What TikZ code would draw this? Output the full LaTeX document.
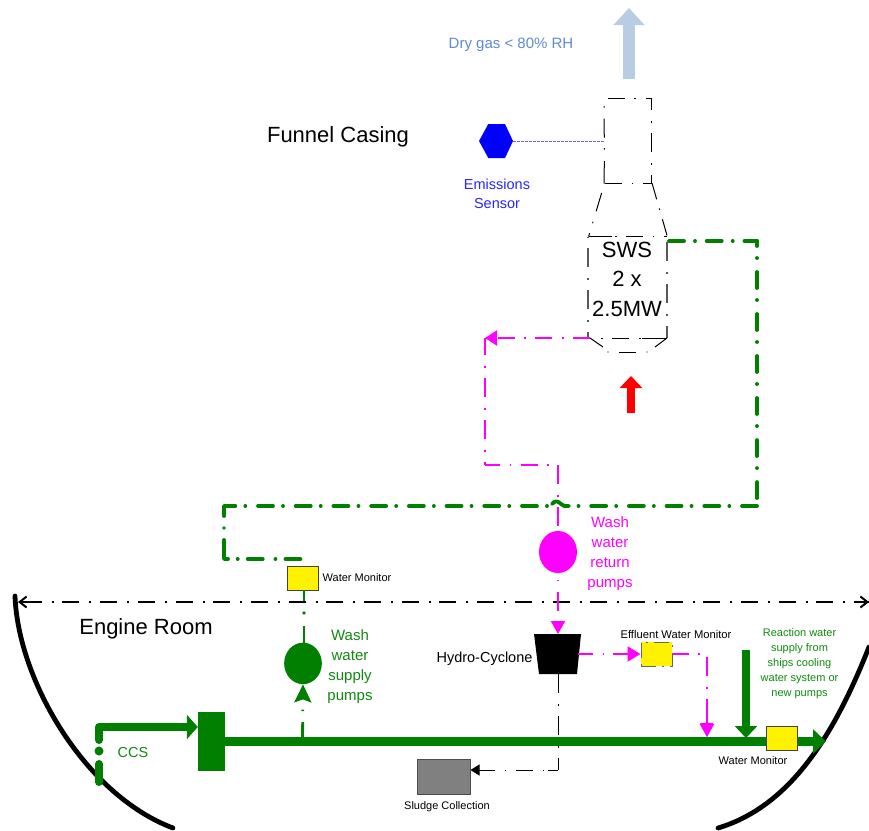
\documentclass[tikz,border=0pt]{standalone}
\usepackage{fontspec}
\setmainfont{Liberation Sans}
\usetikzlibrary{arrows.meta,shapes.geometric}
\definecolor{pgreen}{HTML}{007F00}
\definecolor{tgreen}{HTML}{0F8A0F}
\definecolor{pmag}{HTML}{FF00FF}
\definecolor{skyb}{HTML}{B8CCE4}
\definecolor{skyt}{HTML}{5F8BCB}
\definecolor{sgray}{HTML}{808080}
\newcommand{\fs}[1]{\fontsize{#1}{#1}\selectfont}
\tikzset{
  x=1pt,y=-1pt,
  lbl/.style={inner sep=0pt,align=center},
  big/.style={lbl,font=\fs{22}{}},
  monitor/.style={draw=black!75,line width=1pt,fill=yellow,minimum width=31pt,minimum height=23.5pt,inner sep=0pt},
  pump/.style={ellipse,inner sep=0pt},
  hpat/.style={dash pattern=on 17pt off 9.5pt on 1.5pt off 9.7pt},
  vpat/.style={dash pattern=on 19pt off 11pt on 1.5pt off 10.5pt},
  pipesolid/.style={draw=pgreen,line width=3.8pt,line cap=round,line join=round},
  pipeh/.style={pipesolid,dash pattern=on 15pt off 12.7pt on 0.01pt off 10pt},
  pipev/.style={pipesolid,dash pattern=on 16pt off 12pt on 0.01pt off 14pt},
  thinpipe/.style={draw=pgreen,line width=2.8pt,vpat},
  magh/.style={draw=pmag,line width=2pt,hpat},
  magv/.style={draw=pmag,line width=2pt,vpat},
  magsolid/.style={draw=pmag,line width=2pt},
  blk/.style={draw=black,line width=1pt},
  blkh/.style={blk,hpat},
  blkv/.style={blk,vpat},
  room/.style={draw=black,line width=2pt,dash pattern=on 17pt off 10pt on 2pt off 8.7pt},
  hull/.style={draw=black,line width=4.8pt,line cap=round},
  magtip/.style={-{Triangle[length=13pt,width=14pt]}},
  magtiph/.style={-{Triangle[length=12pt,width=15pt]}},
}
\begin{document}
\begin{tikzpicture}
\useasboundingbox (0,0) rectangle (869,830);
% hull
\draw[hull] (15,596) .. controls (18,680) and (85,795) .. (173,828);
\draw[hull] (869,647) .. controls (838,725) and (795,805) .. (718,828);
% room line
\coordinate (roomL) at (18,602);
\coordinate (roomR) at (869,602);
\draw[room,dash phase=31pt] (roomL) -- (roomR);
\draw[black,line width=2pt,-{Straight Barb[length=7pt,width=11pt]}] (27,602) -- (roomL);
\draw[black,line width=2pt,-{Straight Barb[length=7pt,width=11pt]}] (858,602) -- (roomR);
% exhaust arrows
\coordinate (dryA) at (629,79);
\coordinate (dryB) at (629,8);
\draw[skyb,line width=12pt,-{Triangle[length=17pt,width=30pt]}] (dryA) -- (dryB);
\coordinate (redA) at (631,413);
\coordinate (redB) at (631,376);
\draw[red,line width=8pt,-{Triangle[length=12pt,width=22pt]}] (redA) -- (redB);
% funnel
\node[inner sep=0pt,minimum width=47pt,minimum height=85pt] (funnel) at (627.8,140.8) {};
\draw[blkh,dash phase=34pt] (funnel.north west) -- (funnel.north east);
\draw[blkv,dash phase=7pt] (funnel.north east) -- (funnel.south east);
\draw[blkh,dash phase=8pt] (funnel.south east) -- (funnel.south west);
\draw[blk] (funnel.south west) -- (604.3,161);
\draw[blkv,dash phase=30pt] (604.3,149.5) -- (funnel.north west);
\coordinate (cn1) at (604.6,183);
\coordinate (cn2) at (588.6,236.5);
\coordinate (cn3) at (667.3,236.5);
\coordinate (cn4) at (652,183);
\draw[blkv,dash phase=31.6pt] (cn1) -- (cn2);
\draw[blkh] (cn4) -- (cn3);
\draw[blkh] (cn2) -- (cn3);
\draw[blk] (604,236.5) -- (612,236.5);
\coordinate (sb1) at (588,237);
\coordinate (sb2) at (590,338);
\coordinate (sb3) at (603,347);
\coordinate (sb4) at (655,347);
\coordinate (sb5) at (667,338);
\coordinate (sb6) at (667,237);
\draw[blkv,draw=black!65,dash phase=31pt,line width=1.2pt] (sb1) -- (588,338);
\draw[blkv,draw=black!65,dash phase=37pt,line width=1.2pt] (sb6) -- (sb5);
\draw[blkh] (sb5) -- (597,338);
\draw[blk] (650,338) -- (642,338);
\draw[blk] (sb2) -- (sb3);
\draw[blk] (sb5) -- (sb4);
\draw[blk] (619,352) -- (636,352);
\fill[black] (608,352) circle (0.7pt) (647,352) circle (0.7pt);
\node[big,align=center] (sws) at (627,279) {SWS\\[7.5pt]2 x\\[7.5pt]2.5MW};
% sensor
\node[inner sep=0pt,minimum width=34pt,minimum height=34pt] (sensor) at (496,141) {};
\fill[blue] (479,141) -- (488.3,124) -- (505,124) -- (513,141) -- (505,158) -- (488.3,158) -- cycle;
\coordinate (sensorEnd) at (604,141);
\draw[draw=blue!60,line width=1pt,dash pattern=on 3pt off 1pt] (sensor.east) -- (sensorEnd);
% boxes
\node[monitor] (wm1) at (302.5,578.5) {};
\node[monitor,minimum height=24pt,draw=black!60,dash pattern=on 15pt off 6pt on 2pt off 6pt] (wm2) at (656.5,654) {};
\node[draw=black!70,line width=1pt,fill=sgray,minimum width=53pt,minimum height=35pt,inner sep=0pt] (sludge) at (443.5,776.5) {};
% pumps
\node[pump,fill=pgreen,minimum width=37.7pt,minimum height=41.5pt] (pumpG) at (303,663.4) {};
\node[pump,fill=pmag,minimum width=38pt,minimum height=42pt] (pumpM) at (558,552) {};
% cyclone
\node[inner sep=0pt,minimum width=40pt,minimum height=40pt] (cyclone) at (558,654) {};
\fill[black] (534,634) -- (581,634) -- (577,674) -- (539,674) -- cycle;
% sludge line (under main pipe)
\coordinate (s0) at (558,770);
\draw[blkv] (558,674) -- (s0);
\draw[blk] (s0) -- (548,770);
\draw[blkh,dash phase=26.5pt,-{Triangle[length=9pt,width=11pt]}] (544,770) -- (sludge.east |- s0);
% magenta
\coordinate (m0) at (590,338);
\coordinate (m1) at (485,338);
\coordinate (m2) at (485,465);
\coordinate (m3) at (558,465);
\draw[magh,magtiph] (m0) -- (m1);
\draw[magv,dash phase=2pt] (m1) -- (m2);
\draw[magh,dash phase=2pt] (m2) -- (m3);
\draw[magv] (m3) -- (pumpM.north);
\draw[magv,dash phase=23.5pt,magtip] (pumpM.south) -- (558,634);
\draw[magh,dash phase=2pt] (578,654) -- (613,654);
\draw[magsolid,-{Triangle[length=13pt,width=15pt]}] (613,654) -- (wm2.west);
\coordinate (m4) at (707,654);
\draw[magh,dash phase=1pt] (wm2.east) -- (m4);
\draw[magv,dash phase=39pt,magtip] (m4) -- (707,737);
% green pipe
\coordinate (g0) at (669,241);
\coordinate (g1) at (757,241);
\coordinate (g2) at (757,506);
\coordinate (g3) at (224,506);
\coordinate (g4) at (224,559);
\coordinate (g5) at (305,559);
\draw[pipeh,dash pattern=on 15pt off 11pt on 0.01pt off 11.7pt] (g0) -- (g1);
\draw[pipev,dash phase=11pt] (g1) -- (g2);
\draw[pipeh] (g2) -- (569,506);
\draw[pipesolid] (552,504) .. controls (555,500) and (558,501) .. (561,504) .. controls (563,506.5) and (566,506.5) .. (569,506);
\draw[pipeh,dash phase=22.7pt] (552,506) -- (235,506);
\draw[pipesolid] (235,506) -- (g3) -- (224,516);
\fill[pgreen] (224,528) circle (1.9pt);
\draw[pipesolid] (224,540) -- (g4) -- (228,559);
\draw[pipeh,dash phase=27pt] (237,559) -- (g5);
% main pipe
\node[fill=pgreen,minimum width=27pt,minimum height=59pt,inner sep=0pt] (filter) at (211.5,741.5) {};
\node[monitor] (wm3) at (781.5,738.5) {};
\coordinate (mainEnd) at (826,741.5);
\draw[pgreen,line width=9pt] (filter.east |- mainEnd) -- (wm3.west |- mainEnd);
\draw[pgreen,line width=9pt,-{Triangle[length=13pt,width=24pt]}] (wm3.east |- mainEnd) -- (mainEnd);
\draw[magsolid] (707,718) -- (707,724);
\fill[pmag] (700,723) -- (713,723) -- (707,737) -- cycle;
% CCS
\coordinate (c0) at (99,782);
\coordinate (c1) at (99,727);
\draw[pgreen,line width=8pt,line cap=round] (c0) -- (99,764);
\fill[pgreen] (99,751) circle (4.5pt);
\draw[pgreen,line width=8pt,line join=round,-{Triangle[length=11pt,width=24pt]}] (99,740) -- (c1) -- (filter.west |- c1);
\fill[pgreen] (99,740) circle (4pt);
% reaction
\coordinate (r0) at (746,650);
\coordinate (r1) at (746,738);
\draw[pgreen,line width=8pt,-{Triangle[length=12pt,width=22pt]}] (r0) -- (r1);
% wash water supply branches
\coordinate (j1) at (302.5,741);
\draw[thinpipe,-{Stealth[length=18pt,width=17pt,inset=3pt]}] (j1) -- (pumpG.south);
\draw[thinpipe] (304,645) -- (304,624);
\fill[pgreen] (304,613) circle (1.8pt);
\draw[pgreen,line width=2.8pt] (304,601) -- (304,590);
% text
\node[lbl,font=\fs{15},text=skyt] (t1) at (511,45) {Dry gas < 80\% RH};
\node[big] (t2) at (338,137) {Funnel Casing};
\node[lbl,font=\fs{14.5},text=blue!85!white] (t3) at (497,194) {Emissions\\[5pt]Sensor};
\node[big] (t4) at (146,629) {Engine Room};
\node[lbl,font=\fs{11}] (t5) at (357,578) {Water Monitor};
\node[lbl,font=\fs{15},text=tgreen] (t6) at (350,667) {Wash\\[5pt]water\\[5pt]supply\\[5pt]pumps};
\node[lbl,font=\fs{15},text=pmag] (t7) at (610,554) {Wash\\[5pt]water\\[5pt]return\\[5pt]pumps};
\node[lbl,font=\fs{14.5}] (t8) at (484.5,659) {Hydro-Cyclone};
\node[lbl,font=\fs{11.2}] (t9) at (676,634) {Effluent Water Monitor};
\node[lbl,font=\fs{11},text=tgreen] (t10) at (799.5,664) {Reaction water\\[4pt]supply from\\[4pt]ships cooling\\[4pt]water system or\\[4pt]new pumps};
\node[lbl,font=\fs{11}] (t11) at (753,761) {Water Monitor};
\node[lbl,font=\fs{14.5},text=tgreen] (t12) at (133,752) {CCS};
\node[lbl,font=\fs{11}] (t13) at (447,807) {Sludge Collection};
\end{tikzpicture}
\end{document}
